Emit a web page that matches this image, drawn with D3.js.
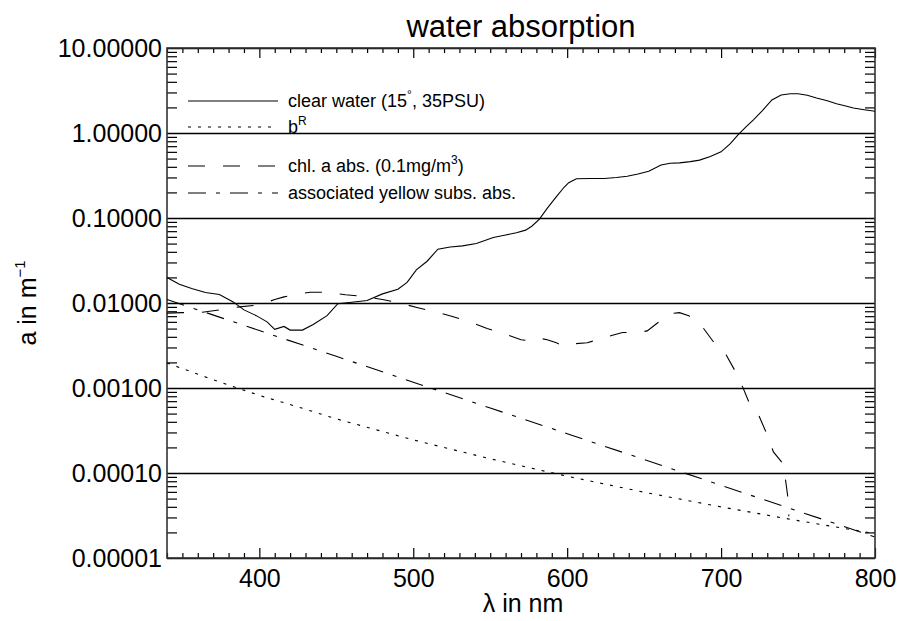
<!DOCTYPE html>
<html>
<head>
<meta charset="utf-8">
<script src="https://cdn.jsdelivr.net/npm/d3@7"></script>
<style>
   html, body { margin: 0; padding: 0; background: #fff; }
   svg { display: block; font-family: "Liberation Sans", Arial, Helvetica, sans-serif; }
</style>
</head>
<body>
<svg id="chart" width="899" height="621"></svg>
<script>
// wavelengths (nm) and absorption (1/m)
const clearWaterWl = [ 340, 348, 356, 365, 374, 383, 390, 398, 405, 410, 416, 420, 428, 435, 444, 451, 460, 470,
   480, 490, 496, 502, 509, 516, 524, 532, 541, 552, 560, 567, 573, 577, 582, 587, 593, 598, 601, 606, 615, 624, 632,
   639, 646, 653, 661, 667, 673, 680, 686, 693, 700, 706, 711, 716, 721, 727, 733, 739, 745, 750, 756, 762, 769, 775,
   781, 786, 793, 800 ];
const clearWater = [ 0.020, 0.0166, 0.0148, 0.0133, 0.0126, 0.0103, 0.0083, 0.0071, 0.0060, 0.0049, 0.0053, 0.0048,
   0.0048, 0.0056, 0.0071, 0.0098, 0.0102, 0.0107, 0.0128, 0.0145, 0.0175, 0.0245, 0.031, 0.043, 0.0455, 0.047, 0.050,
   0.059, 0.063, 0.067, 0.072, 0.080, 0.097, 0.13, 0.178, 0.23, 0.26, 0.29, 0.292, 0.292, 0.30, 0.31, 0.33, 0.355,
   0.42, 0.44, 0.445, 0.46, 0.48, 0.53, 0.60, 0.75, 0.95, 1.17, 1.43, 1.85, 2.45, 2.80, 2.90, 2.90, 2.78, 2.58, 2.40,
   2.21, 2.08, 1.97, 1.88, 1.80 ];

const scatterWl = [ 340, 370, 400, 425, 450, 475, 500, 550, 600, 650, 700, 750, 800 ];
const scatterBR = [ 0.00197, 0.00125, 0.000818, 0.000600, 0.000433, 0.000326, 0.000245, 0.000147, 0.0000916,
   0.0000594, 0.0000399, 0.0000275, 0.0000194 ];

const chlWl = [ 340, 350, 363, 374, 387, 398, 405, 410, 416, 422, 433, 444, 456, 467, 480, 490, 503, 514, 526, 537,
   548, 560, 570, 575, 580, 587, 593, 598, 603, 613, 624, 630, 636, 646, 652, 658, 667, 673, 679, 688, 695, 703, 709,
   714, 719, 724, 730, 734, 740, 742, 743.5, 744 ];
const chlAbs = [ 0.0076, 0.0077, 0.0078, 0.0083, 0.0090, 0.0094, 0.0102, 0.0110, 0.0118, 0.0124, 0.0134, 0.0134,
   0.0125, 0.0120, 0.0110, 0.0101, 0.0088, 0.0079, 0.0069, 0.0060, 0.0050, 0.0043, 0.0037, 0.0036, 0.0039, 0.0037,
   0.0034, 0.0031, 0.0033, 0.0034, 0.0039, 0.0042, 0.0045, 0.0045, 0.0047, 0.0057, 0.0075, 0.0077, 0.0071, 0.0052,
   0.0035, 0.0025, 0.0016, 0.00103, 0.00062, 0.00050, 0.00028, 0.000177, 0.00013, 0.00008, 0.00005, 0.000031 ];

const yellowWl = [ 340, 400, 450, 500, 550, 600, 650, 700, 750, 800 ];
const yellowAbs = [ 0.0110, 0.00474, 0.00236, 0.00117, 0.000582, 0.000290, 0.000144, 0.0000716, 0.0000356,
   0.0000177 ];

const xMajorTicks = [ 400, 500, 600, 700, 800 ];
const yMajorTicks = [ 1e-5, 1e-4, 1e-3, 1e-2, 1e-1, 1, 10 ];

const legendItems = [
   { label: [ 'clear water (15', { sup: '°' }, ', 35PSU)' ], dash: null },
   { label: [ 'b', { sup: 'R' } ], dash: '3,7' },
   { label: [ 'chl. a abs. (0.1mg/m', { sup: '3' }, ')' ], dash: '17,18' },
   { label: [ 'associated yellow subs. abs.' ], dash: '18,10,4,10' }
];

const svg = d3.select( '#chart' );
const plot = { left: 167, right: 875, top: 48, bottom: 558 };

const x = d3.scaleLinear().domain( [ 340, 800 ] ).range( [ plot.left, plot.right ] );
const y = d3.scaleLog().domain( [ 1e-5, 10 ] ).range( [ plot.bottom, plot.top ] );

const yMinorTicks = [];
yMajorTicks.slice( 0, -1 ).forEach( d => {
   for( let k = 2; k <= 9; ++k ) { yMinorTicks.push( d * k ); }
} );
const xMinorTicks = d3.range( 340, 801, 10 ).filter( d => d % 100 !== 0 );

const noDomain = g => g.select( '.domain' ).remove();

// x minor + major ticks, bottom and top
svg.append( 'g' ).attr( 'transform', `translate(0,${plot.bottom})` )
   .call( d3.axisBottom( x ).tickValues( xMinorTicks ).tickSize( -5 ).tickFormat( '' ) ).call( noDomain );
svg.append( 'g' ).attr( 'transform', `translate(0,${plot.top})` )
   .call( d3.axisTop( x ).tickValues( xMinorTicks ).tickSize( -5 ).tickFormat( '' ) ).call( noDomain );
svg.append( 'g' ).attr( 'transform', `translate(0,${plot.top})` )
   .call( d3.axisTop( x ).tickValues( xMajorTicks ).tickSize( -10 ).tickFormat( '' ) ).call( noDomain );
svg.append( 'g' ).attr( 'class', 'x-axis' ).attr( 'transform', `translate(0,${plot.bottom})` )
   .call( d3.axisBottom( x ).tickValues( xMajorTicks ).tickSize( -10 ).tickPadding( 11 )
      .tickFormat( d3.format( 'd' ) ) )
   .call( noDomain );

// y minor ticks both sides, major ticks as full gridlines
svg.append( 'g' ).attr( 'transform', `translate(${plot.left},0)` )
   .call( d3.axisLeft( y ).tickValues( yMinorTicks ).tickSize( -10 ).tickFormat( '' ) ).call( noDomain );
svg.append( 'g' ).attr( 'transform', `translate(${plot.right},0)` )
   .call( d3.axisRight( y ).tickValues( yMinorTicks ).tickSize( -10 ).tickFormat( '' ) ).call( noDomain );
svg.append( 'g' ).attr( 'class', 'y-axis' ).attr( 'transform', `translate(${plot.left},0)` )
   .call( d3.axisLeft( y ).tickValues( yMajorTicks ).tickSize( -( plot.right - plot.left ) ).tickPadding( 5 )
      .tickFormat( d3.format( '.5f' ) ) )
   .call( noDomain );

svg.selectAll( '.tick line' ).attr( 'stroke', '#000' ).attr( 'stroke-width', 1.2 );
svg.selectAll( '.x-axis text, .y-axis text' )
   .attr( 'font-size', 25 ).attr( 'fill', '#000' ).style( 'font-family', 'inherit' );
svg.selectAll( '.y-axis .tick line' ).attr( 'stroke-width', 1.4 );

svg.append( 'rect' )
   .attr( 'x', plot.left ).attr( 'y', plot.top )
   .attr( 'width', plot.right - plot.left ).attr( 'height', plot.bottom - plot.top )
   .attr( 'fill', 'none' ).attr( 'stroke', '#333' ).attr( 'stroke-width', 1.6 );

// curves
const line = xs => d3.line().x( ( d, i ) => x( xs[ i ] ) ).y( d => y( d ) );
const curves = [
   { wl: clearWaterWl, values: clearWater, dash: null },
   { wl: scatterWl, values: scatterBR, dash: '3,7' },
   { wl: chlWl, values: chlAbs, dash: '17,18' },
   { wl: yellowWl, values: yellowAbs, dash: '18,10,4,10' }
];
svg.append( 'g' ).selectAll( 'path' ).data( curves ).join( 'path' )
   .attr( 'd', c => line( c.wl )( c.values ) )
   .attr( 'fill', 'none' ).attr( 'stroke', '#000' ).attr( 'stroke-width', 1.1 )
   .attr( 'stroke-dasharray', c => c.dash );

// legend
const legendBaselines = [ 107, 133, 172, 199 ];
const legend = svg.append( 'g' ).selectAll( 'g' ).data( legendItems ).join( 'g' )
   .attr( 'transform', ( d, i ) => `translate(0,${legendBaselines[ i ]})` );
legend.append( 'line' )
   .attr( 'x1', 188 ).attr( 'x2', 278 ).attr( 'y1', -6 ).attr( 'y2', -6 )
   .attr( 'stroke', '#000' ).attr( 'stroke-width', 1.1 ).attr( 'stroke-dasharray', d => d.dash );
legend.append( 'text' ).attr( 'x', 288 ).attr( 'font-size', 18 )
   .each( function( d ) {
      const text = d3.select( this );
      let shift = 0;
      d.label.forEach( part => {
         if( typeof part === 'string' ) {
            text.append( 'tspan' ).attr( 'dy', shift ).text( part );
            shift = 0;
         }
         else {
            text.append( 'tspan' ).attr( 'font-size', 12 ).attr( 'dy', -8 ).text( part.sup );
            shift = 8;
         }
      } );
   } );

// titles
svg.append( 'text' ).attr( 'x', 521 ).attr( 'y', 37 ).attr( 'text-anchor', 'middle' ).attr( 'font-size', 31 )
   .text( 'water absorption' );
svg.append( 'text' ).attr( 'x', 523 ).attr( 'y', 612 ).attr( 'text-anchor', 'middle' ).attr( 'font-size', 25 )
   .text( 'λ in nm' );
const yTitle = svg.append( 'text' ).attr( 'transform', 'translate(36,303) rotate(-90)' )
   .attr( 'text-anchor', 'middle' ).attr( 'font-size', 25 );
yTitle.append( 'tspan' ).text( 'a in m' );
yTitle.append( 'tspan' ).attr( 'font-size', 15 ).attr( 'dy', -11 ).text( '−1' );
</script>
</body>
</html>
